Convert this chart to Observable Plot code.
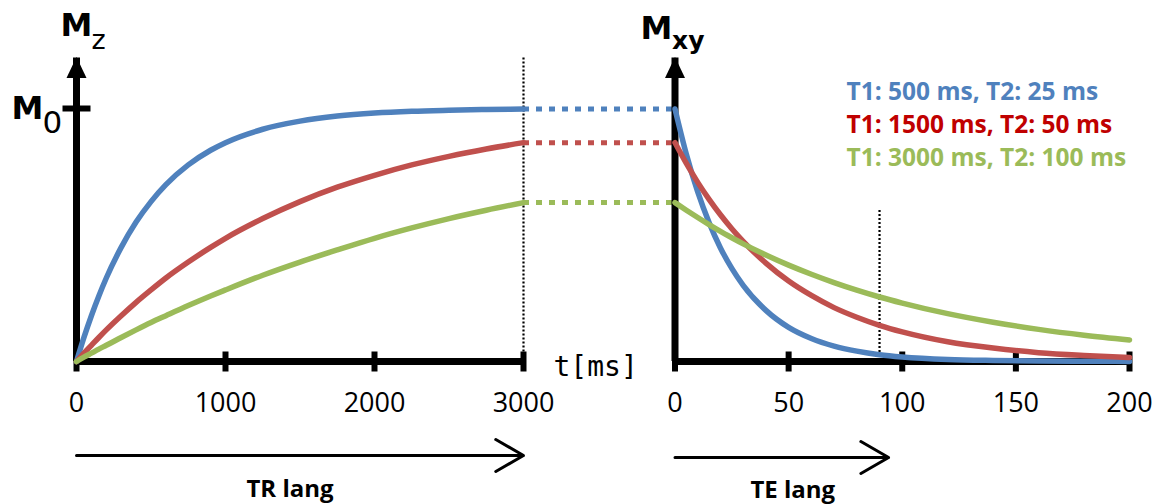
<!DOCTYPE html>
<html>
<head>
<meta charset="utf-8">
<script src="https://cdn.jsdelivr.net/npm/d3@7"></script>
<script src="https://cdn.jsdelivr.net/npm/@observablehq/plot@0.6"></script>
<style>
  body { margin: 0; background: #ffffff; }
  #chart { position: relative; width: 1160px; height: 504px; overflow: hidden; background: #ffffff; }
  #chart svg { position: absolute; top: 0; }
</style>
</head>
<body>
<div id="chart"></div>
<script>
// ---------------- DATA ----------------
const seriesNames = ["T1: 500 ms, T2: 25 ms", "T1: 1500 ms, T2: 50 ms", "T1: 3000 ms, T2: 100 ms"];
const lineColors = ["#4f81bd", "#c0504d", "#9bbb59"];
const legendColors = ["#4f81bd", "#c00000", "#9bbb59"];

// Left panel: longitudinal recovery Mz (fraction of M0) vs t [ms]
const trTimes = [0, 50, 100, 150, 200, 300, 400, 500, 600, 750, 900, 1000, 1250, 1500, 1750, 2000, 2250, 2500, 2750, 3000];
const mzBlue  = [0, 0.095, 0.181, 0.259, 0.330, 0.451, 0.551, 0.632, 0.699, 0.777, 0.835, 0.865, 0.918, 0.950, 0.970, 0.982, 0.989, 0.993, 0.996, 0.998];
const mzRed   = [0, 0.033, 0.064, 0.095, 0.125, 0.181, 0.234, 0.283, 0.330, 0.393, 0.451, 0.487, 0.565, 0.632, 0.689, 0.736, 0.777, 0.811, 0.840, 0.865];
const mzGreen = [0, 0.017, 0.033, 0.049, 0.064, 0.095, 0.125, 0.154, 0.181, 0.221, 0.259, 0.283, 0.341, 0.393, 0.441, 0.487, 0.528, 0.565, 0.598, 0.628];

// Right panel: transverse decay Mxy vs t [ms]
const teTimes  = [0, 5, 10, 15, 20, 25, 30, 40, 50, 60, 70, 80, 90, 100, 120, 140, 160, 180, 200];
const mxyBlue  = [0.998, 0.819, 0.670, 0.549, 0.449, 0.368, 0.301, 0.202, 0.135, 0.091, 0.061, 0.041, 0.027, 0.018, 0.008, 0.004, 0.002, 0.001, 0.0003];
const mxyRed   = [0.865, 0.783, 0.708, 0.641, 0.580, 0.525, 0.475, 0.389, 0.318, 0.261, 0.213, 0.175, 0.143, 0.117, 0.078, 0.053, 0.035, 0.024, 0.016];
const mxyGreen = [0.628, 0.598, 0.569, 0.541, 0.514, 0.489, 0.465, 0.421, 0.381, 0.345, 0.312, 0.282, 0.255, 0.231, 0.189, 0.155, 0.127, 0.104, 0.085];

const leftTicks = [0, 1000, 2000, 3000];
const rightTicks = [0, 50, 100, 150, 200];
const trMark = 3000;          // TR (dotted vertical, left)
const teMark = 90;            // TE (dotted vertical, right)
const teMarkTop = 0.6;
const trArrow = [0, 3000];    // "TR lang" arrow extent
const teArrow = [0, 94];      // "TE lang" arrow extent
const yDomain = [0, 1.2];

// ---------------- LAYOUT ----------------
const W = 580, H = 504;
const mTop = 57.4, mBottom = 143;
const leftML = 76, leftMR = 57;
const rightOffset = 580, rightML = 94.5, rightMR = 31;
const baseY = H - mBottom;

// symbols
const tickV = {draw(ctx, size) { const r = Math.sqrt(size / Math.PI); ctx.moveTo(0, -r); ctx.lineTo(0, r); }};
const tickH = {draw(ctx, size) { const r = Math.sqrt(size / Math.PI); ctx.moveTo(-r, 0); ctx.lineTo(r, 0); }};
const arrowHead = {draw(ctx, size) { const r = Math.sqrt(size / Math.PI); ctx.moveTo(0, -1); ctx.lineTo(r / 2, r); ctx.lineTo(-r / 2, r); ctx.closePath(); }};

const mzSeries = [mzBlue, mzRed, mzGreen];
const mxySeries = [mxyBlue, mxyRed, mxyGreen];

const xLeft = Plot.scale({x: {domain: [0, 3000], range: [leftML, W - leftMR]}});
const connectorEnd = xLeft.invert(rightOffset + rightML);

const labelFont = "Open Sans";
const symFont = "DejaVu Sans";
const plotStyle = {background: "transparent", overflow: "visible"};

function axisMarks(ticks) {
  return [
    Plot.ruleY([0], {stroke: "black", strokeWidth: 7}),
    Plot.ruleX([0], {stroke: "black", strokeWidth: 7}),
    Plot.dot(ticks, {x: d => d, y: 0, symbol: tickV, r: 10, stroke: "black", strokeWidth: 6, fill: "none"}),
    Plot.dot([0], {x: d => d, frameAnchor: "top", symbol: arrowHead, r: 20, fill: "black", stroke: "none"}),
    Plot.axisX({ticks, tickSize: 0, tickPadding: 31, fontSize: 27, fontFamily: labelFont, label: null, tickFormat: d => String(d), fill: "black"})
  ];
}

// ---------------- LEFT PLOT ----------------
const leftMarks = [];
mzSeries.forEach((vals, i) => {
  leftMarks.push(Plot.ruleY([vals[vals.length - 1]], {x1: trMark, x2: connectorEnd, stroke: lineColors[i], strokeWidth: 5, strokeDasharray: "6,7"}));
});
leftMarks.push(Plot.ruleX([trMark], {stroke: "black", strokeWidth: 2.2, strokeDasharray: "2,2"}));
leftMarks.push(...axisMarks(leftTicks));
leftMarks.push(Plot.dot([1], {x: 0, y: d => d, symbol: tickH, r: 14, stroke: "black", strokeWidth: 6, fill: "none"}));
mzSeries.forEach((vals, i) => {
  leftMarks.push(Plot.line(trTimes.map((t, j) => ({t, v: vals[j]})), {x: "t", y: "v", stroke: lineColors[i], strokeWidth: 5.5, curve: "monotone-x"}));
});
// labels
leftMarks.push(Plot.text(["M"], {x: 0, frameAnchor: "top", text: d => d, dx: 0, dy: 35 - mTop, textAnchor: "middle", lineAnchor: "bottom", fontSize: 32, fontWeight: "bold", fontFamily: symFont, fill: "black"}));
leftMarks.push(Plot.text(["z"], {x: 0, frameAnchor: "top", text: d => d, dx: 15, dy: 48 - mTop, textAnchor: "start", lineAnchor: "bottom", fontSize: 27, fontFamily: symFont, fill: "black"}));
leftMarks.push(Plot.text(["M"], {x: 0, y: 1, text: d => d, dx: -65, dy: 10, textAnchor: "start", lineAnchor: "bottom", fontSize: 32, fontWeight: "bold", fontFamily: symFont, fill: "black"}));
leftMarks.push(Plot.text(["0"], {x: 0, y: 1, text: d => d, dx: -34, dy: 24, textAnchor: "start", lineAnchor: "bottom", fontSize: 31, fontFamily: symFont, fill: "black"}));
leftMarks.push(Plot.text(["t[ms]"], {frameAnchor: "bottom-right", text: d => d, dx: 30, dy: 14, textAnchor: "start", lineAnchor: "bottom", fontSize: 28, fontFamily: "DejaVu Sans Mono", fill: "black"}));
leftMarks.push(Plot.arrow([trArrow], {x1: d => d[0], x2: d => d[1], y1: 0, y2: 0, dy: 455 - baseY, stroke: "black", strokeWidth: 3, headLength: 16}));
leftMarks.push(Plot.text(["TR lang"], {x: (trArrow[0] + trArrow[1]) / 2, y: 0, text: d => d, dx: -10, dy: 489 - baseY, textAnchor: "middle", lineAnchor: "middle", fontSize: 24, fontWeight: "bold", fontFamily: labelFont, fill: "black"}));

const left = Plot.plot({
  width: W, height: H,
  marginLeft: leftML, marginRight: leftMR, marginTop: mTop, marginBottom: mBottom,
  x: {domain: [0, 3000]},
  y: {domain: yDomain, axis: null},
  style: plotStyle,
  marks: leftMarks
});

// ---------------- RIGHT PLOT ----------------
const rightMarks = [];
rightMarks.push(Plot.ruleX([teMark], {y1: 0.02, y2: teMarkTop, stroke: "black", strokeWidth: 2.2, strokeDasharray: "2,2"}));
rightMarks.push(...axisMarks(rightTicks));
mxySeries.forEach((vals, i) => {
  rightMarks.push(Plot.line(teTimes.map((t, j) => ({t, v: vals[j]})), {x: "t", y: "v", stroke: lineColors[i], strokeWidth: 5.5, curve: "monotone-x"}));
});
rightMarks.push(Plot.text(["M"], {x: 0, frameAnchor: "top", text: d => d, dx: -18.5, dy: 38 - mTop, textAnchor: "middle", lineAnchor: "bottom", fontSize: 32, fontWeight: "bold", fontFamily: symFont, fill: "black"}));
rightMarks.push(Plot.text(["xy"], {x: 0, frameAnchor: "top", text: d => d, dx: -3, dy: 48 - mTop, textAnchor: "start", lineAnchor: "bottom", fontSize: 25, fontWeight: "bold", fontFamily: symFont, fill: "black"}));
const legendRowY = [92, 125, 158];
seriesNames.forEach((name, i) => {
  rightMarks.push(Plot.text([name], {frameAnchor: "top-left", text: d => d, dx: 846 - (rightOffset + rightML), dy: legendRowY[i] - mTop, textAnchor: "start", lineAnchor: "middle", fontSize: 24.5, fontWeight: "bold", fontFamily: labelFont, fill: legendColors[i]}));
});
rightMarks.push(Plot.arrow([teArrow], {x1: d => d[0], x2: d => d[1], y1: 0, y2: 0, dy: 457 - baseY, stroke: "black", strokeWidth: 3, headLength: 16}));
rightMarks.push(Plot.text(["TE lang"], {x: (teArrow[0] + teArrow[1]) / 2, y: 0, text: d => d, dx: 11, dy: 490 - baseY, textAnchor: "middle", lineAnchor: "middle", fontSize: 24, fontWeight: "bold", fontFamily: labelFont, fill: "black"}));

const right = Plot.plot({
  width: W, height: H,
  marginLeft: rightML, marginRight: rightMR, marginTop: mTop, marginBottom: mBottom,
  x: {domain: [0, 200]},
  y: {domain: yDomain, axis: null},
  style: plotStyle,
  marks: rightMarks
});

const chart = document.getElementById("chart");
left.style.left = "0px";
right.style.left = rightOffset + "px";
chart.appendChild(left);
chart.appendChild(right);
</script>
</body>
</html>
